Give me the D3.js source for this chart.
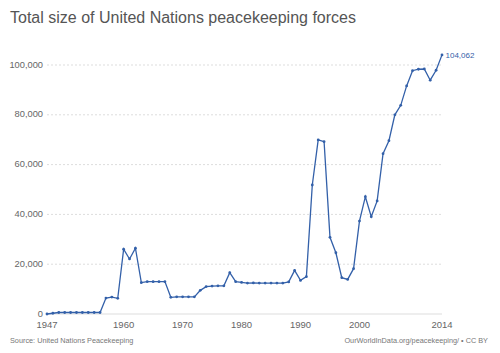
<!DOCTYPE html>
<html>
<head>
<meta charset="utf-8">
<script src="https://cdn.jsdelivr.net/npm/d3@7"></script>
<style>
  body { margin: 0; background: #fff; }
  svg { font-family: "Liberation Sans", Arial, sans-serif; }
</style>
</head>
<body>
<div id="chart"></div>
<script>
// data
var years = d3.range(1947, 2015);
var troops = [
  0, 300, 600, 600, 600, 600, 600, 600, 600, 600,          // 1947-1956
  6400, 6800, 6300, 26000, 22100, 26400, 12600, 13000, 13000, 13000, // 1957-1966
  13000, 6700, 6900, 6900, 6900, 6900, 9500, 11000, 11200, 11300,    // 1967-1976
  11300, 16600, 13000, 12700, 12400, 12500, 12400, 12400, 12400, 12400, // 1977-1986
  12400, 12900, 17500, 13500, 15000, 51800, 69900, 69200, 30800, 24600, // 1987-1996
  14600, 13900, 18200, 37300, 47100, 39100, 45400, 64400, 69600, 80000, // 1997-2006
  83800, 91600, 97700, 98300, 98400, 93900, 97900, 104062             // 2007-2014
];
var yTicks = [0, 20000, 40000, 60000, 80000, 100000];
var xTicks = [1947, 1960, 1970, 1980, 1990, 2000, 2014];

var width = 500, height = 353;
var margin = {left: 47, right: 58, top: 65, bottom: 39};

var svg = d3.select("#chart").append("svg")
    .attr("width", width)
    .attr("height", height);

var x = d3.scaleLinear().domain([1947, 2014]).range([margin.left, width - margin.right]);
var y = d3.scaleLinear().domain([0, 100000]).range([height - margin.bottom, margin.top]);

var fmt = d3.format(",");

// title
svg.append("text")
    .attr("x", 10)
    .attr("y", 23)
    .attr("font-size", 16)
    .attr("fill", "#555")
    .text("Total size of United Nations peacekeeping forces");

// grid lines
svg.append("g").selectAll("line")
    .data(yTicks.filter(function(d) { return d > 0; }))
    .enter().append("line")
    .attr("x1", margin.left)
    .attr("x2", width - margin.right)
    .attr("y1", function(d) { return y(d); })
    .attr("y2", function(d) { return y(d); })
    .attr("stroke", "#ddd")
    .attr("stroke-dasharray", "2,2");

svg.append("line")
    .attr("x1", margin.left)
    .attr("x2", width - margin.right)
    .attr("y1", y(0))
    .attr("y2", y(0))
    .attr("stroke", "#ddd");

// y labels
svg.append("g").selectAll("text")
    .data(yTicks)
    .enter().append("text")
    .attr("x", 43)
    .attr("y", function(d) { return y(d) + 2.5; })
    .attr("text-anchor", "end")
    .attr("font-size", 9.3)
    .attr("fill", "#666")
    .text(function(d) { return fmt(d); });

// x labels
svg.append("g").selectAll("text")
    .data(xTicks)
    .enter().append("text")
    .attr("x", function(d) { return x(d); })
    .attr("y", 328)
    .attr("text-anchor", "middle")
    .attr("font-size", 9.5)
    .attr("fill", "#666")
    .text(function(d) { return d; });

// line
var pts = years.map(function(d, i) { return [d, troops[i]]; });
var line = d3.line()
    .x(function(d) { return x(d[0]); })
    .y(function(d) { return y(d[1]); });

svg.append("path")
    .datum(pts)
    .attr("d", line)
    .attr("fill", "none")
    .attr("stroke", "#3360a9")
    .attr("stroke-width", 1.3);

svg.append("g").selectAll("circle")
    .data(pts)
    .enter().append("circle")
    .attr("cx", function(d) { return x(d[0]); })
    .attr("cy", function(d) { return y(d[1]); })
    .attr("r", 1.4)
    .attr("fill", "#3360a9");

// end label
var last = pts[pts.length - 1];
svg.append("text")
    .attr("x", x(last[0]) + 3.5)
    .attr("y", y(last[1]) + 3)
    .attr("font-size", 8)
    .attr("fill", "#3360a9")
    .text(fmt(last[1]));

// footer
svg.append("text")
    .attr("x", 10)
    .attr("y", 343)
    .attr("font-size", 7.3)
    .attr("fill", "#777")
    .text("Source: United Nations Peacekeeping");

svg.append("text")
    .attr("x", 488)
    .attr("y", 343)
    .attr("text-anchor", "end")
    .attr("font-size", 7.3)
    .attr("fill", "#777")
    .text("OurWorldInData.org/peacekeeping/ \u2022 CC BY");
</script>
</body>
</html>
